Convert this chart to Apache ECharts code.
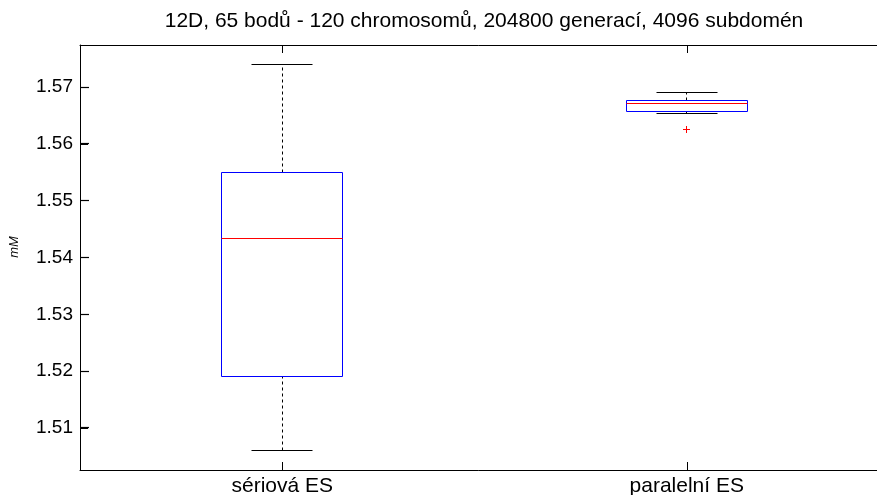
<!DOCTYPE html>
<html>
<head>
<meta charset="utf-8">
<script src="https://cdn.jsdelivr.net/npm/echarts@6/dist/echarts.min.js"></script>
<style>html,body{margin:0;padding:0;background:#fff}#c{width:877px;height:495px}</style>
</head>
<body>
<div id="c"></div>
<script>
var titleText = '12D, 65 bodů - 120 chromosomů, 204800 generací, 4096 subdomén';
var yLabel = 'mM';
var categories = ['sériová ES', 'paralelní ES'];
var whiskerLow = [1.5060, 1.5653];
var q1 = [1.5190, 1.5657];
var median = [1.5434, 1.5671];
var q3 = [1.5550, 1.5676];
var whiskerHigh = [1.5740, 1.5690];
var outliers = [[1, 1.5626]];
var yTicks = [1.51, 1.52, 1.53, 1.54, 1.55, 1.56, 1.57];

var FONT = 'Liberation Sans, Arial, Helvetica, sans-serif';
var boxData = categories.map(function (c, i) {
  return [i, whiskerLow[i], q1[i], median[i], q3[i], whiskerHigh[i]];
});
function sn(v) { return Math.round(v - 0.5) + 0.5; }

var chart = echarts.init(document.getElementById('c'), null, {renderer: 'canvas'});
chart.setOption({
  animation: false,
  backgroundColor: '#fff',
  grid: {left: 80, top: 45, width: 809, height: 425, containLabel: false, outerBoundsMode: 'none'},
  graphic: [
    {type: 'text', x: 484, y: 21, style: {text: titleText, font: '21px ' + FONT, fill: '#000', textAlign: 'center', textVerticalAlign: 'middle'}},
    {type: 'text', x: 14.5, y: 247, rotation: Math.PI / 2, style: {text: yLabel, font: 'italic 13px ' + FONT, fill: '#000', textAlign: 'center', textVerticalAlign: 'middle'}}
  ],
  xAxis: [
    {type: 'category', data: categories, position: 'bottom', boundaryGap: true,
     axisLine: {show: true, lineStyle: {color: '#000', width: 1}},
     axisTick: {show: true, interval: 0, inside: true, alignWithLabel: true, length: 8, lineStyle: {color: '#000', width: 1}},
     axisLabel: {color: '#000', fontSize: 21, fontFamily: FONT, margin: 6, interval: 0},
     splitLine: {show: false}},
    {type: 'category', data: categories, position: 'top', boundaryGap: true,
     axisLine: {show: true, lineStyle: {color: '#000', width: 1}},
     axisTick: {show: true, interval: 0, inside: true, alignWithLabel: true, length: 8, lineStyle: {color: '#000', width: 1}},
     axisLabel: {show: false, interval: 0}, splitLine: {show: false}}
  ],
  yAxis: [{
    type: 'value', min: 1.5026, max: 1.5774, position: 'left',
    axisLine: {show: true, lineStyle: {color: '#000', width: 1}},
    axisTick: {show: true, inside: true, length: 8, interval: 0, customValues: yTicks, lineStyle: {color: '#000', width: 1}},
    axisLabel: {color: '#000', fontSize: 19, fontFamily: FONT, margin: 7, customValues: yTicks,
      formatter: function (v) { return v.toFixed(2); }},
    splitLine: {show: false}
  }],
  series: [
    {
      type: 'custom',
      xAxisIndex: 0, yAxisIndex: 0,
      data: boxData,
      encode: {x: 0, y: [1, 2, 3, 4, 5]},
      renderItem: function (params, api) {
        var i = api.value(0);
        var band = api.size([1, 0])[0];
        var bw = band * 0.15, cw = band * 0.075;
        var yLow = sn(api.coord([i, api.value(1)])[1]);
        var yQ1 = sn(api.coord([i, api.value(2)])[1]);
        var yMed = sn(api.coord([i, api.value(3)])[1]);
        var yQ3 = sn(api.coord([i, api.value(4)])[1]);
        var yHigh = sn(api.coord([i, api.value(5)])[1]);
        var cxr = api.coord([i, api.value(3)])[0];
        var cx = sn(cxr);
        var l = sn(cxr - bw), r = sn(cxr + bw), cl = sn(cxr - cw), cr = sn(cxr + cw);
        var dash = {stroke: '#000', lineWidth: 1, lineDash: [3, 3], fill: null};
        var solid = {stroke: '#000', lineWidth: 1, fill: null};
        var children = [
          {type: 'line', shape: {x1: cx, y1: yQ3, x2: cx, y2: yHigh}, style: dash},
          {type: 'line', shape: {x1: cx, y1: yLow, x2: cx, y2: yQ1}, style: dash},
          {type: 'line', shape: {x1: cl, y1: yHigh, x2: cr, y2: yHigh}, style: solid},
          {type: 'line', shape: {x1: cl, y1: yLow, x2: cr, y2: yLow}, style: solid},
          {type: 'rect', shape: {x: l, y: yQ3, width: r - l, height: yQ1 - yQ3},
           style: {stroke: '#0000ff', lineWidth: 1, fill: null}},
          {type: 'line', shape: {x1: l, y1: yMed, x2: r, y2: yMed}, style: {stroke: '#ff0000', lineWidth: 1}}
        ];
        if (i === 0) {
          var x0 = Math.round(cxr - band / 2);
          yTicks.forEach(function (v) {
            var ty = sn(api.coord([0, v])[1]);
            children.push({type: 'line', shape: {x1: x0, y1: ty, x2: x0 + 9, y2: ty}, style: {stroke: '#000', lineWidth: 1.2}});
          });
        }
        return {type: 'group', children: children};
      }
    },
    {
      type: 'custom',
      xAxisIndex: 0, yAxisIndex: 0,
      data: outliers,
      encode: {x: 0, y: 1},
      renderItem: function (params, api) {
        var p = api.coord([api.value(0), api.value(1)]);
        var x = sn(p[0]), y = sn(p[1]);
        var s = 3;
        var st = {stroke: '#ff0000', lineWidth: 1};
        return {type: 'group', children: [
          {type: 'line', shape: {x1: x - s - 0.5, y1: y, x2: x + s + 0.5, y2: y}, style: st},
          {type: 'line', shape: {x1: x, y1: y - s - 0.5, x2: x, y2: y + s + 0.5}, style: st}
        ]};
      }
    }
  ]
});
</script>
</body>
</html>
